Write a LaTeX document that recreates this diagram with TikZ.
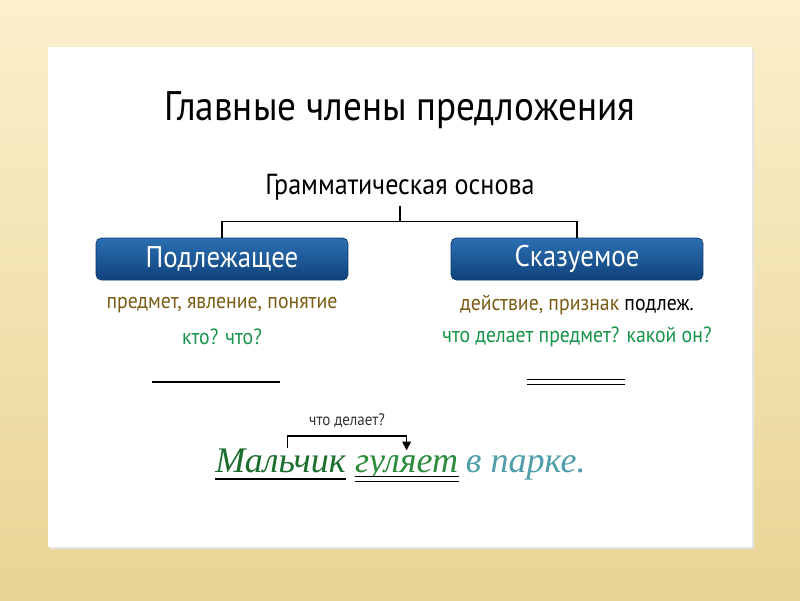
\documentclass[tikz,border=0pt]{standalone}
\usepackage{fontspec}
\setmainfont[FakeStretch=0.9]{PT Sans}
\newfontfamily\handfont{Liberation Serif}
\usetikzlibrary{positioning,arrows.meta}
\definecolor{bgtop}{HTML}{FCF0CC}
\definecolor{bgbot}{HTML}{E8D494}
\definecolor{boxtop}{HTML}{2C70B2}
\definecolor{boxbot}{HTML}{0F427C}
\definecolor{boxedge}{HTML}{0B3566}
\definecolor{olive}{HTML}{7A5C14}
\definecolor{quest}{HTML}{17944A}
\definecolor{handdark}{HTML}{1C6E2E}
\definecolor{handmid}{HTML}{2B8C3C}
\definecolor{handteal}{HTML}{4E9EAA}
\tikzset{
  member/.style={rounded corners=3pt,top color=boxtop,bottom color=boxbot,draw=boxedge,
    text=white,minimum width=5.04cm,minimum height=0.84cm,font=\fontsize{17}{19}\selectfont},
  meaning/.style={font=\fontsize{12.5}{14}\selectfont,text=olive},
  question/.style={font=\fontsize{12.5}{14}\selectfont,text=quest},
  hand/.style={font=\handfont\itshape\fontsize{20.5}{24}\selectfont,inner sep=0pt},
  qarrow/.style={thick,-{Triangle[width=5pt,length=5pt]}}
}
\begin{document}
\begin{tikzpicture}[x=0.02cm,y=-0.02cm]
\useasboundingbox (0,0) rectangle (800,600);
\fill[top color=bgtop,bottom color=bgbot] (0,0) rectangle (800,600);
\fill[black!10] (50,50) rectangle (754,549);
\fill[white] (48,47) rectangle (752,547);
% heading
\node (title) at (400,110) {\fontsize{23.5}{26}\selectfont Главные члены предложения};
\node (basis) at (400,187) {\fontsize{16.5}{19}\selectfont Грамматическая основа};
% the two members
\node[member] (subj) at (222,259) {Подлежащее};
\node[member] (pred) at (577,259) {Сказуемое};
\draw[thick] (subj.north) -- ++(0,-16) coordinate (bl) -| (pred.north);
\draw[thick] (basis.south) -- (basis.south |- bl);
% what they mean
\node[meaning] (subjmean) at (222,305) {предмет, явление, понятие};
\node[question] (subjq) at (222,337) {кто? что?};
\node[meaning] (predmean) at (577,305) {действие, признак \textcolor{black}{подлеж.}};
\node[question] (predq) at (577,337) {что делает предмет? какой он?};
% how they are underlined
\draw[line width=1.2pt] (152,382) coordinate (s1) -- (280,382) coordinate (s2);
\draw[double,double distance=2pt,line width=0.7pt] (527,382) coordinate (p1) -- (625,382) coordinate (p2);
% example sentence
\node[hand,text=handdark,anchor=base west] (boy) at (215,472) {Мальчик};
\node[hand,text=handmid,right=5pt of boy.base east,anchor=base west] (walks) {гуляет};
\node[hand,text=handteal,right=4pt of walks.base east,anchor=base west] (park) {в парке.};
\draw[line width=1pt] ([yshift=-4pt]boy.base west) -- ([yshift=-4pt]boy.base east);
\draw[double,double distance=1.8pt,line width=0.6pt] ([yshift=-4pt]walks.base west) -- ([yshift=-4pt]walks.base east);
\draw[qarrow] ([xshift=4pt]boy.north) -- ++(0,-12) -| node[pos=0.25,above=1pt,font=\fontsize{9.5}{11}\selectfont,text=black!80] (ask) {что делает?} ([yshift=2.5pt]walks.north);
\end{tikzpicture}
\end{document}
